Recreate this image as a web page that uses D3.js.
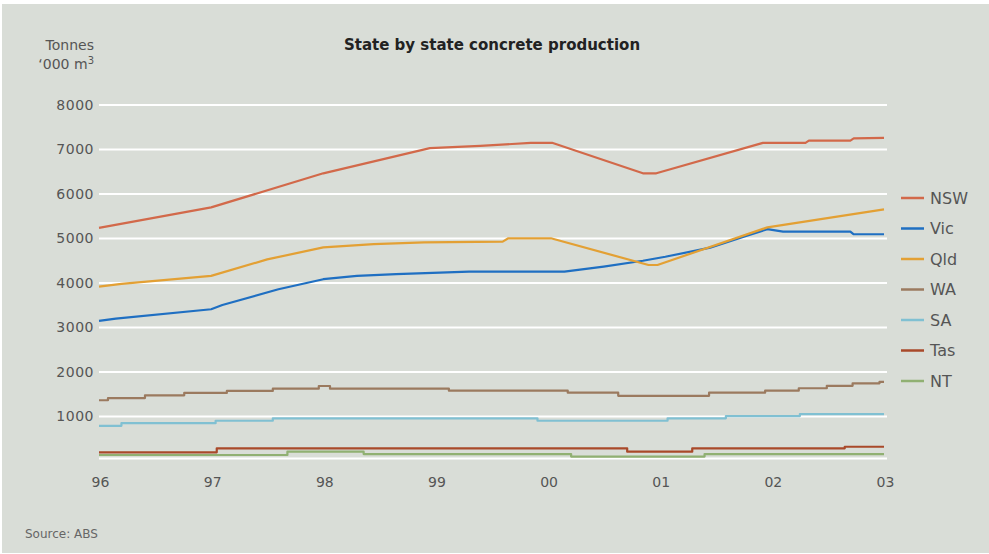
<!DOCTYPE html>
<html>
<head>
<meta charset="utf-8">
<script src="https://cdn.jsdelivr.net/npm/d3@7"></script>
<style>
  html, body { margin: 0; padding: 0; background: #ffffff; }
  svg { display: block; }
  text { font-family: "DejaVu Sans", "Liberation Sans", sans-serif; }
</style>
</head>
<body>
<svg id="chart" width="989" height="554"></svg>
<script>
// ---------- data ----------
const years = [1996, 1997, 1998, 1999, 2000, 2001, 2002, 2003];
const xTickLabels = ["96", "97", "98", "99", "00", "01", "02", "03"];
const yTicks = [1000, 2000, 3000, 4000, 5000, 6000, 7000, 8000];
const yTickLabels = ["1000", "2000", "3000", "4000", "5000", "6000", "7000", "8000"];
const states = ["NSW", "Vic", "Qld", "WA", "SA", "Tas", "NT"];

// [year, '000 m3]
const NSW = [[1996,5240],[1997,5700],[1998,6465],[1998.95,7030],[1999.4,7080],[1999.85,7150],[2000.04,7150],[2000.85,6465],[2000.97,6465],[2001.92,7150],[2002.3,7150],[2002.33,7200],[2002.7,7200],[2002.73,7250],[2003,7260]];
const Vic = [[1996,3150],[1996.15,3200],[1997,3410],[1997.1,3505],[1997.6,3860],[1998,4085],[1998.3,4160],[1998.65,4200],[1999.3,4255],[2000.15,4255],[2000.5,4370],[2000.85,4500],[2001.05,4590],[2001.45,4795],[2001.75,5040],[2001.96,5210],[2002.1,5155],[2002.7,5155],[2002.73,5095],[2003,5095]];
const Qld = [[1996,3920],[1996.2,3980],[1997,4160],[1997.5,4530],[1998,4800],[1998.45,4875],[1998.9,4915],[1999.6,4930],[1999.65,5005],[2000.03,5005],[2000.9,4405],[2000.98,4405],[2001.96,5250],[2003,5655]];
const WA = [[1996,1365],[1996.08,1415],[1996.41,1475],[1996.76,1530],[1997.14,1575],[1997.55,1625],[1997.96,1685],[1998.06,1625],[1999.12,1580],[2000.18,1535],[2000.63,1465],[2001.44,1535],[2001.94,1580],[2002.24,1635],[2002.49,1690],[2002.72,1745],[2002.96,1780],[2003,1780]];
const SA = [[1996,790],[1996.2,850],[1997.04,905],[1997.55,960],[1999.91,905],[2001.07,960],[2001.59,1010],[2002.25,1055],[2003,1055]];
const Tas = [[1996,195],[1997.05,285],[2000.71,210],[2001.29,285],[2002.65,320],[2003,320]];
const NT = [[1996,135],[1997.68,210],[1998.36,155],[2000.21,100],[2001.4,155],[2003,155]];

const seriesData = { NSW, Vic, Qld, WA, SA, Tas, NT };
const colors = { NSW: "#d2694a", Vic: "#1f6fc2", Qld: "#e3a034", WA: "#9b7a5f", SA: "#80c0d2", Tas: "#a9492a", NT: "#90b072" };
const stepped = { NSW: false, Vic: false, Qld: false, WA: true, SA: true, Tas: true, NT: true };
const drawOrder = ["NT", "Tas", "SA", "WA", "Vic", "Qld", "NSW"];

// ---------- chart ----------
const svg = d3.select("#chart");

svg.append("rect").attr("x", 2).attr("y", 4).attr("width", 987).attr("height", 549).attr("fill", "#d9ddd7");

const x = d3.scaleLinear().domain([1996, 2003]).range([99, 884]);
const y = d3.scaleLinear().domain([0, 8000]).range([461, 105]);

// gridlines
const grid = svg.append("g");
grid.selectAll("line.g").data(yTicks).join("line")
  .attr("x1", x(1996)).attr("x2", x(2003) + 3)
  .attr("y1", d => y(d)).attr("y2", d => y(d))
  .attr("stroke", "#ffffff").attr("stroke-width", 2);
// baseline
grid.append("line")
  .attr("x1", x(1996)).attr("x2", x(2003) + 3)
  .attr("y1", y(0) - 2.5).attr("y2", y(0) - 2.5)
  .attr("stroke", "#ffffff").attr("stroke-width", 2);

// y axis labels
const yAxis = d3.axisLeft(y).tickValues(yTicks).tickSize(0).tickPadding(0)
  .tickFormat((d, i) => yTickLabels[i]);
const yg = svg.append("g").attr("transform", "translate(94,0)").call(yAxis);
yg.select(".domain").remove();
yg.selectAll("text").attr("font-size", 14).attr("fill", "#555").attr("letter-spacing", 0.5)
  .attr("font-family", "DejaVu Sans, sans-serif");

// x axis labels
const xAxis = d3.axisBottom(x).tickValues(years).tickSize(0).tickPadding(0)
  .tickFormat((d, i) => xTickLabels[i]);
const xg = svg.append("g").attr("transform", "translate(1,477)").call(xAxis);
xg.select(".domain").remove();
xg.selectAll("text").attr("font-size", 14).attr("fill", "#555")
  .attr("font-family", "DejaVu Sans, sans-serif");

// lines
const lineLinear = d3.line().x(d => x(d[0])).y(d => y(d[1]));
const lineStep = d3.line().x(d => x(d[0])).y(d => y(d[1])).curve(d3.curveStepAfter);

svg.append("g").selectAll("path").data(drawOrder).join("path")
  .attr("d", k => (stepped[k] ? lineStep : lineLinear)(seriesData[k]))
  .attr("fill", "none")
  .attr("stroke", k => colors[k])
  .attr("stroke-width", 2.2)
  .attr("stroke-linejoin", "round");

// legend
const legend = svg.append("g");
const ly = d3.scalePoint().domain(states).range([198, 381]);
legend.selectAll("line").data(states).join("line")
  .attr("x1", 901).attr("x2", 924)
  .attr("y1", d => ly(d)).attr("y2", d => ly(d))
  .attr("stroke", d => colors[d]).attr("stroke-width", 2.5);
legend.selectAll("text").data(states).join("text")
  .attr("x", 930).attr("y", d => ly(d)).attr("dy", "0.36em")
  .attr("font-size", 16).attr("fill", "#555")
  .text(d => d);

// title
svg.append("text").attr("x", 492).attr("y", 50).attr("text-anchor", "middle")
  .attr("font-size", 15).attr("font-weight", "bold").attr("fill", "#222")
  .text("State by state concrete production");

// unit label
svg.append("text").attr("x", 94).attr("y", 50).attr("text-anchor", "end")
  .attr("font-size", 14).attr("fill", "#555").text("Tonnes");
const unit = svg.append("text").attr("x", 94).attr("y", 69).attr("text-anchor", "end")
  .attr("font-size", 14).attr("fill", "#555");
unit.append("tspan").text("\u2018000 m");
unit.append("tspan").attr("dy", -5).attr("font-size", 10).text("3");

// source
svg.append("text").attr("x", 25).attr("y", 538)
  .attr("font-size", 12).attr("fill", "#666").text("Source: ABS");
</script>
</body>
</html>
